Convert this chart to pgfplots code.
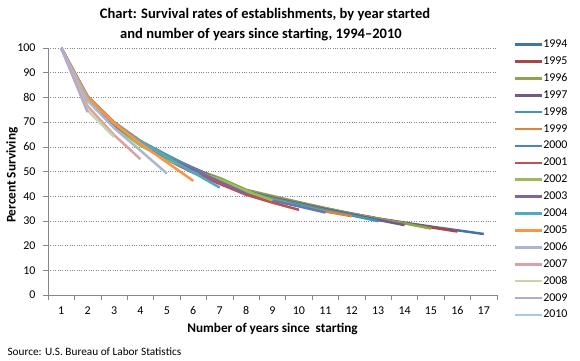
\documentclass[border=0pt]{standalone}
\usepackage{pgfplots}
\pgfplotsset{compat=1.18}
\usepackage{fontspec}
\setmainfont{Carlito}
\definecolor{c1994}{HTML}{4572A7}
\definecolor{c1995}{HTML}{AA4643}
\definecolor{c1996}{HTML}{89A54E}
\definecolor{c1997}{HTML}{71588F}
\definecolor{c1998}{HTML}{4198AF}
\definecolor{c1999}{HTML}{DB843D}
\definecolor{c2000}{HTML}{4F81BD}
\definecolor{c2001}{HTML}{C0504D}
\definecolor{c2002}{HTML}{9BBB59}
\definecolor{c2003}{HTML}{8064A2}
\definecolor{c2004}{HTML}{4BACC6}
\definecolor{c2005}{HTML}{F79646}
\definecolor{c2006}{HTML}{A7B8CF}
\definecolor{c2007}{HTML}{D9A3A2}
\definecolor{c2008}{HTML}{C5D5AC}
\definecolor{c2009}{HTML}{B6A9CA}
\definecolor{c2010}{HTML}{A5CDDA}
\definecolor{axgray}{HTML}{868686}
\begin{document}
\begin{tikzpicture}[x=1bp,y=1bp]
\useasboundingbox (0,0) rectangle (580,360);
\begin{axis}[
  at={(48bp,65bp)}, anchor=south west,
  width=449bp, height=247bp, scale only axis,
  xmin=0.5, xmax=17.5, ymin=0, ymax=100,
  xtick={1,...,17},
  minor xtick={0.5,1.5,...,17.5},
  ytick={0,10,...,100},
  tick align=outside,
  major tick length=5bp, minor tick length=5bp,
  major x tick style={draw=none},
  tick style={axgray, line width=0.6bp},
  axis x line*=bottom, axis y line*=left,
  axis line style={axgray, line width=0.8bp, -},
  ymajorgrids,
  major grid style={axgray, dotted, line width=0.6bp},
  /pgf/number format/assume math mode=true,
  ticklabel style={font=\fontsize{12}{14}\selectfont, text=black},
  xticklabel style={yshift=-3bp},
  yticklabel style={xshift=-4bp},
  xlabel={Number of years since\ \ starting},
  ylabel={Percent Surviving},
  every axis x label/.style={at={(axis description cs:0.5,-0.138)}, anchor=center, font=\fontsize{13.3}{15}\selectfont\bfseries},
  every axis y label/.style={at={(axis description cs:-0.08,0.485)}, anchor=center, rotate=90, font=\fontsize{13.3}{15}\selectfont\bfseries},
  legend style={at={(axis description cs:1.03,1.045)}, anchor=north west, draw=none, fill=none,
    font=\fontsize{12}{14}\selectfont, row sep=5.9bp,
    nodes={inner sep=0pt, text height=8.5bp, text depth=2.5bp}},
  legend cell align=left,
  legend image code/.code={\draw[#1, line width=2.6bp] (0bp,0bp) -- (27bp,0bp);},
  every axis plot/.append style={line width=2.5bp, no markers, line join=round},
]
\addplot[c1994] coordinates {(1,100)(2,79.6)(3,68.9)(4,61.6)(5,56.0)(6,51.0)(7,46.9)(8,42.3)(9,39.7)(10,37.4)(11,35.1)(12,33.0)(13,31.0)(14,29.3)(15,27.7)(16,26.2)(17,24.7)};
\addplot[c1995] coordinates {(1,100)(2,79.8)(3,69.3)(4,61.9)(5,56.3)(6,51.2)(7,47.2)(8,42.4)(9,39.8)(10,37.4)(11,35.0)(12,32.8)(13,30.9)(14,29.1)(15,27.4)(16,25.7)};
\addplot[c1996] coordinates {(1,100)(2,79.5)(3,68.8)(4,61.5)(5,55.8)(6,50.9)(7,47.4)(8,42.6)(9,40.1)(10,37.6)(11,35.2)(12,32.9)(13,30.9)(14,29.0)(15,26.9)};
\addplot[c1997] coordinates {(1,100)(2,79.7)(3,69.3)(4,62.0)(5,56.3)(6,51.5)(7,46.6)(8,42.0)(9,39.4)(10,37.1)(11,34.8)(12,32.6)(13,30.4)(14,28.3)};
\addplot[c1998] coordinates {(1,100)(2,80.3)(3,69.9)(4,62.4)(5,56.7)(6,51.2)(7,46.5)(8,41.6)(9,39.1)(10,36.8)(11,34.4)(12,32.2)(13,29.9)};
\addplot[c1999] coordinates {(1,100)(2,80.5)(3,70.0)(4,62.3)(5,55.9)(6,50.5)(7,46.2)(8,41.3)(9,38.6)(10,36.1)(11,33.8)(12,31.9)};
\addplot[c2000] coordinates {(1,100)(2,80.0)(3,69.2)(4,61.5)(5,55.5)(6,50.2)(7,45.7)(8,40.9)(9,38.2)(10,35.9)(11,33.4)};
\addplot[c2001] coordinates {(1,100)(2,79.4)(3,68.4)(4,60.7)(5,54.8)(6,49.5)(7,45.0)(8,40.6)(9,37.4)(10,34.5)};
\addplot[c2002] coordinates {(1,100)(2,79.0)(3,68.2)(4,60.5)(5,54.9)(6,50.3)(7,46.8)(8,42.2)(9,38.3)};
\addplot[c2003] coordinates {(1,100)(2,79.4)(3,68.9)(4,61.6)(5,55.6)(6,50.8)(7,45.9)(8,41.0)};
\addplot[c2004] coordinates {(1,100)(2,80.3)(3,69.5)(4,62.0)(5,55.8)(6,49.6)(7,43.5)};
\addplot[c2005] coordinates {(1,100)(2,80.0)(3,69.5)(4,61.3)(5,53.7)(6,46.2)};
\addplot[c2006] coordinates {(1,100)(2,78.7)(3,67.6)(4,58.5)(5,49.2)};
\addplot[c2007] coordinates {(1,100)(2,76.5)(3,64.8)(4,55.0)};
\addplot[c2008] coordinates {(1,100)(2,74.7)(3,64.0)};
\addplot[c2009] coordinates {(1,100)(2,74.0)};
\addplot[c2010] coordinates {(1,100)};
\legend{1994,1995,1996,1997,1998,1999,2000,2001,2002,2003,2004,2005,2006,2007,2008,2009,2010}
\end{axis}
\node[font=\fontsize{14.6}{17}\selectfont\bfseries] at (265,345) {Chart: Survival rates of establishments, by year started};
\node[font=\fontsize{14.6}{17}\selectfont\bfseries] at (261,325) {and number of years since starting, 1994--2010};
\node[font=\fontsize{11.3}{13}\selectfont, anchor=west] at (4,8) {Source: U.S. Bureau of Labor Statistics};
\end{tikzpicture}
\end{document}
